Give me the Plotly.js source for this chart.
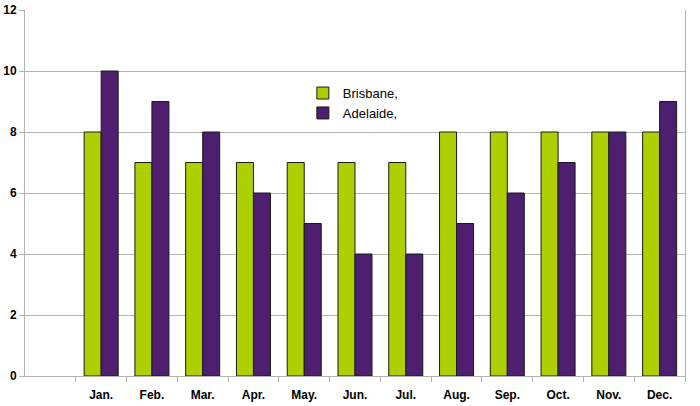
<!DOCTYPE html>
<html>
<head>
<meta charset="utf-8">
<script src="https://cdn.plot.ly/plotly-3.0.1.min.js"></script>
<style>html,body{margin:0;padding:0;background:#fff;}#chart{width:700px;height:406px;}</style>
</head>
<body>
<div id="chart"></div>
<script>
var months = ["Jan.", "Feb.", "Mar.", "Apr.", "May.", "Jun.", "Jul.", "Aug.", "Sep.", "Oct.", "Nov.", "Dec."];
var brisbane = [8, 7, 7, 7, 7, 7, 7, 8, 8, 8, 8, 8];
var adelaide = [10, 9, 8, 6, 5, 4, 4, 5, 6, 7, 8, 9];
var seriesNames = ["Brisbane,", "Adelaide,"];

var traces = [
  {type: "bar", name: seriesNames[0], x: months, y: brisbane,
   marker: {color: "#aed000", line: {color: "#1a1a1a", width: 1}}},
  {type: "bar", name: seriesNames[1], x: months, y: adelaide,
   marker: {color: "#4d1f6e", line: {color: "#1a1a1a", width: 1}}}
];

var layout = {
  width: 700, height: 406,
  margin: {l: 25, r: 15, t: 10, b: 30},
  paper_bgcolor: "#fff", plot_bgcolor: "#fff",
  barmode: "group", bargap: 0.33, bargroupgap: 0,
  font: {family: "Liberation Sans, Arial, sans-serif", color: "#000"},
  xaxis: {
    type: "category", range: [-1.5, 11.5], tickson: "boundaries",
    ticks: "outside", ticklen: 5, tickcolor: "#b3b3b3",
    ticklabelstandoff: 8,
    showgrid: false, showline: true, linecolor: "#b3b3b3", linewidth: 1,
    tickfont: {size: 12, family: "Liberation Sans, Arial, sans-serif", weight: "bold"},
    zeroline: false
  },
  yaxis: {
    range: [0, 12], dtick: 2, ticks: "outside", ticklen: 5, tickcolor: "#b3b3b3",
    showgrid: true, gridcolor: "#b3b3b3", gridwidth: 1,
    showline: true, linecolor: "#b3b3b3", linewidth: 1, mirror: true,
    zeroline: false,
    tickfont: {size: 12, family: "Liberation Sans, Arial, sans-serif", weight: "bold"}
  },
  showlegend: true,
  legend: {
    x: 0.421, y: 0.814, xanchor: "left", yanchor: "top",
    bgcolor: "rgba(0,0,0,0)", font: {size: 13},
    tracegroupgap: 0, itemwidth: 30
  }
};

Plotly.newPlot("chart", traces, layout, {displayModeBar: false, staticPlot: true});
</script>
</body>
</html>
